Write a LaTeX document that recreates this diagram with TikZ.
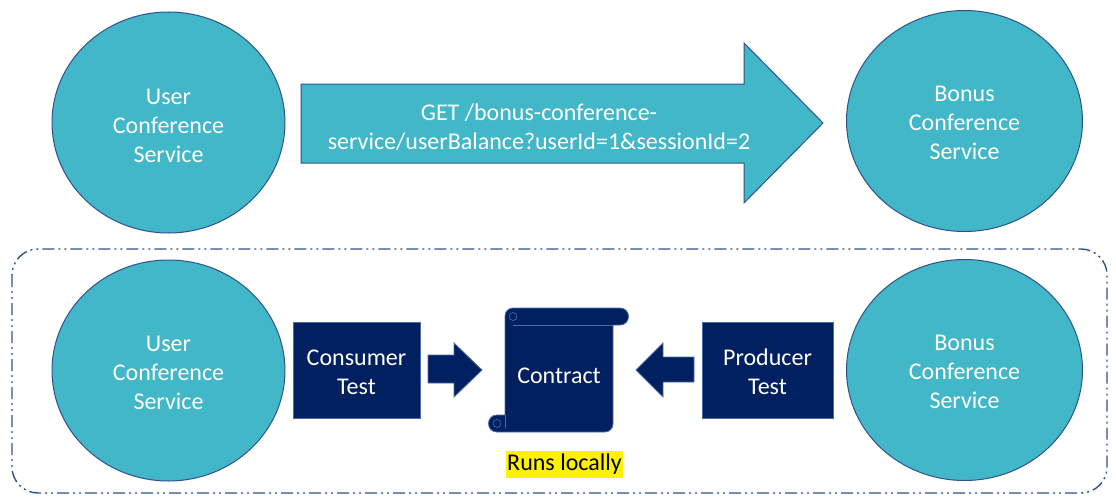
\documentclass[tikz,border=0pt]{standalone}
\usepackage{fontspec}
\setmainfont{Carlito}
\usetikzlibrary{shapes.geometric}
\definecolor{tealfill}{HTML}{41B7C7}
\definecolor{edgeblue}{HTML}{2F528F}
\definecolor{navyfill}{HTML}{002060}
\definecolor{navyedge}{HTML}{4A6DAA}
\begin{document}
\begin{tikzpicture}[x=1pt,y=-1pt,
  txt/.style={font=\fontsize{24}{29}\selectfont, align=center},
  wtxt/.style={txt, text=white},
  svc/.style={ellipse, draw=edgeblue, line width=1pt, fill=tealfill,
    minimum width=233pt, minimum height=221pt, inner sep=0pt},
  testbox/.style={rectangle, draw=navyedge, line width=0.8pt, fill=navyfill,
    minimum height=96pt, inner sep=0pt},
  bigarrow/.style={draw=edgeblue, line width=1pt, fill=tealfill, line join=miter},
  smallarrow/.style={draw=navyedge, line width=0.8pt, fill=navyfill, line join=miter},
  scrollshape/.style={draw=navyedge, line width=0.8pt, fill=navyfill},
  group/.style={draw=edgeblue, line width=1.4pt, rounded corners=26pt,
    dash pattern=on 12pt off 4pt on 2pt off 4pt on 2pt off 4pt}
]
\useasboundingbox (0,0) rectangle (1116,503);

% top row
\node[svc] (u1) at (168.5,122.5) {};
\node[wtxt] (u1t) at ([yshift=-3pt]u1.center) {User\\Conference\\Service};
\node[svc, minimum width=236pt] (b1) at (964.5,121) {};
\node[wtxt] (b1t) at ([yshift=-2pt]b1.center) {Bonus\\Conference\\Service};
\path[bigarrow] (301,84) -- (744,84) -- (744,43) -- (823,123) -- (744,203) -- (744,163) -- (301,163) -- cycle;
\node[wtxt] (req) at (539,127.5) {GET /bonus-conference-\\service/userBalance?userId=1\&sessionId=2};

% group border
\draw[group] (12,249) rectangle (1107,493);

% bottom row
\node[svc] (u2) at (168.5,370.5) {};
\node[wtxt] (u2t) at ([yshift=-2pt]u2.center) {User\\Conference\\Service};
\node[svc, minimum width=236pt] (b2) at (964.5,370) {};
\node[wtxt] (b2t) at ([yshift=-2pt]b2.center) {Bonus\\Conference\\Service};
\node[testbox, minimum width=127pt] (ct) at (356.5,370) {};
\node[wtxt] (ctt) at ([yshift=-2pt]ct.center) {Consumer\\Test};
\node[testbox, minimum width=131pt] (pt) at (767.5,370) {};
\node[wtxt] (ptt) at ([yshift=-2pt]pt.center) {Producer\\Test};

\path[smallarrow] (428,355) -- (454,355) -- (454,343) -- (482,370) -- (454,397) -- (454,383) -- (428,383) -- cycle;
\path[smallarrow] (694,357) -- (663,357) -- (663,343) -- (636,370) -- (663,397) -- (663,382) -- (694,382) -- cycle;

% scroll (contract)
\path[scrollshape] (513,308) -- (620,308) .. controls (631.3,308) and (631.3,325) .. (620,325)
  -- (613,325) -- (613,424) .. controls (613,428.4) and (609.4,432) .. (605,432)
  -- (497,432) .. controls (485.7,432) and (485.7,415) .. (497,415)
  -- (505,415) -- (505,316) .. controls (505,311.6) and (508.6,308) .. (513,308) -- cycle;
\draw[navyedge, line width=0.6pt] (513,325) -- (613,325);
\draw[navyedge, line width=0.6pt] (513,316.5) circle[radius=4pt];
\draw[navyedge, line width=0.6pt] (497,423.5) circle[radius=4pt];
\draw[navyedge, line width=0.6pt] (505,415) -- (505,428);
\node[wtxt] (contract) at (559,376) {Contract};

\node[txt, fill=yellow, text=black, inner xsep=1.5pt, inner ysep=0pt, minimum height=27pt] (runs) at (564.5,464) {Runs locally};
\end{tikzpicture}
\end{document}
